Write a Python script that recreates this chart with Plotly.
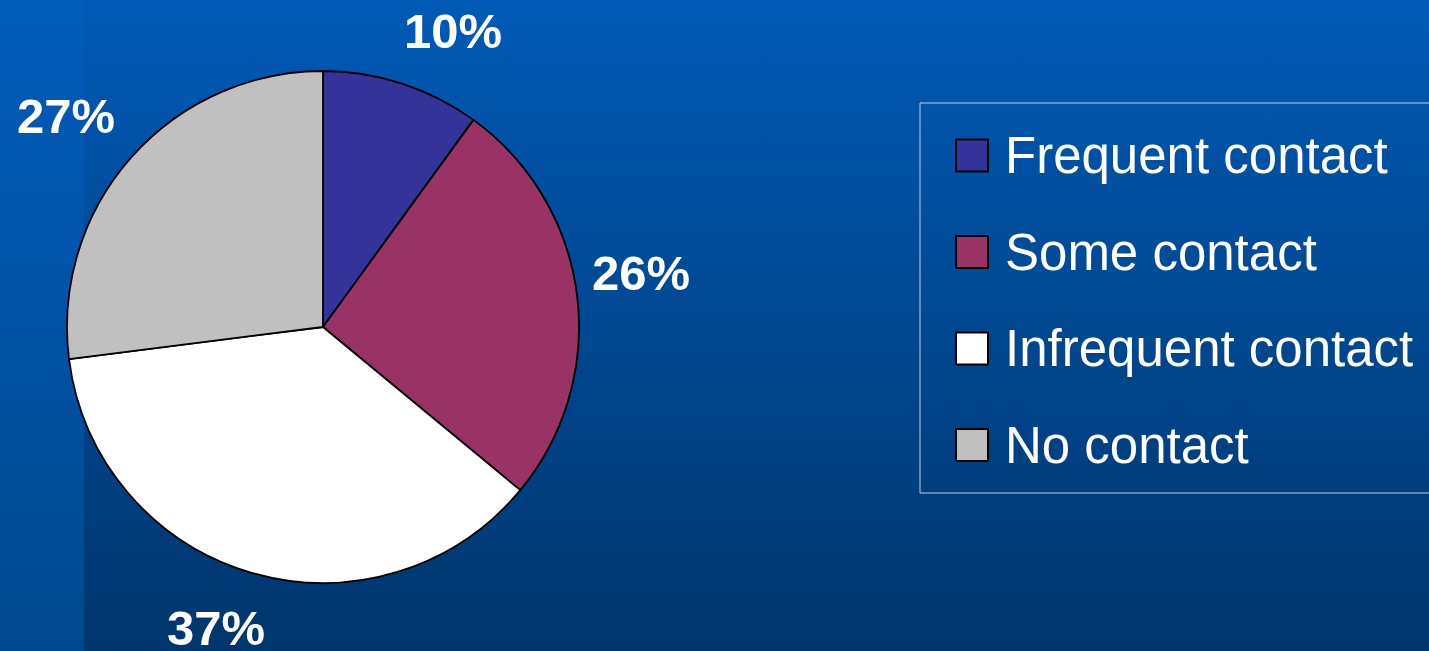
import base64
import math
import plotly.graph_objects as go

# ---- data ----
categories = ["Frequent contact", "Some contact", "Infrequent contact", "No contact"]
shares = [10, 26, 37, 27]
slice_colors = ["#333399", "#993366", "#FFFFFF", "#C0C0C0"]

# ---- canvas ----
W, H = 1429, 651
FONT = "Liberation Sans, Arial, Helvetica, sans-serif"

def xp(px):
    return px / W

def yp(py):
    return 1 - py / H

# pie placement (pixels)
cx, cy, R = 323, 327, 256

# slide-style gradient background drawn as an inline SVG
bg_svg = f"""<svg xmlns='http://www.w3.org/2000/svg' width='{W}' height='{H}' preserveAspectRatio='none'>
<defs>
<linearGradient id='m' x1='0' y1='0' x2='0' y2='1'>
<stop offset='0' stop-color='#005AB6'/><stop offset='1' stop-color='#00366C'/>
</linearGradient>
<linearGradient id='s' x1='0' y1='0' x2='0' y2='1'>
<stop offset='0' stop-color='#005CBA'/><stop offset='1' stop-color='#00498F'/>
</linearGradient>
</defs>
<rect x='0' y='0' width='{W}' height='{H}' fill='url(#m)'/>
<rect x='0' y='0' width='84' height='{H}' fill='url(#s)'/>
</svg>"""
bg_uri = "data:image/svg+xml;base64," + base64.b64encode(bg_svg.encode()).decode()

fig = go.Figure()

fig.add_trace(go.Pie(
    labels=categories,
    values=shares,
    sort=False,
    direction="clockwise",
    rotation=0,
    textinfo="none",
    hoverinfo="label+percent",
    showlegend=False,
    marker=dict(colors=slice_colors, line=dict(color="#000000", width=1.8)),
    domain=dict(x=[xp(cx - R), xp(cx + R)], y=[yp(cy + R), yp(cy - R)]),
))

# percentage labels placed around the pie at each slice's mid-angle
label_dist = [323, 323, 319, 333]        # distance from centre, px
label_turn = [5.8, -2.4, 3.4, -2.0]      # angular nudge, degrees
total = sum(shares)
start = 0.0
annotations = []
for i, v in enumerate(shares):
    frac = v / total
    mid = (start + frac / 2) * 360 + label_turn[i]
    start += frac
    a = math.radians(mid)
    lx = cx + label_dist[i] * math.sin(a)
    ly = cy - label_dist[i] * math.cos(a)
    annotations.append(dict(
        x=xp(lx), y=yp(ly), xref="paper", yref="paper",
        text=f"{round(frac * 100)}%", showarrow=False,
        xanchor="center", yanchor="middle",
        font=dict(family=FONT, size=49, color="#FFFFFF", weight="bold"),
    ))

# custom legend: framed box with square swatches
shapes = [dict(
    type="rect", xref="paper", yref="paper",
    x0=xp(920), x1=xp(1440), y0=yp(493), y1=yp(103),
    line=dict(color="#C4CEE0", width=1), fillcolor="rgba(0,0,0,0)", layer="above",
)]
row0, row_gap, sw = 155.5, 96.5, 32
for i, (name, col) in enumerate(zip(categories, slice_colors)):
    ry = row0 + i * row_gap
    shapes.append(dict(
        type="rect", xref="paper", yref="paper",
        x0=xp(956), x1=xp(956 + sw), y0=yp(ry + sw / 2), y1=yp(ry - sw / 2),
        line=dict(color="#000000", width=2), fillcolor=col, layer="above",
    ))
    annotations.append(dict(
        x=xp(1003), y=yp(ry), xref="paper", yref="paper",
        text=name, showarrow=False, xanchor="left", yanchor="middle",
        font=dict(family=FONT, size=51, color="#FFFFFF"),
    ))

fig.update_layout(
    width=W, height=H,
    margin=dict(l=0, r=0, t=0, b=0),
    paper_bgcolor="#00488F",
    plot_bgcolor="rgba(0,0,0,0)",
    images=[dict(source=bg_uri, xref="paper", yref="paper", x=0, y=1,
                 sizex=1, sizey=1, sizing="stretch", xanchor="left",
                 yanchor="top", layer="below")],
    shapes=shapes,
    annotations=annotations,
)

fig.write_html("out.html")
